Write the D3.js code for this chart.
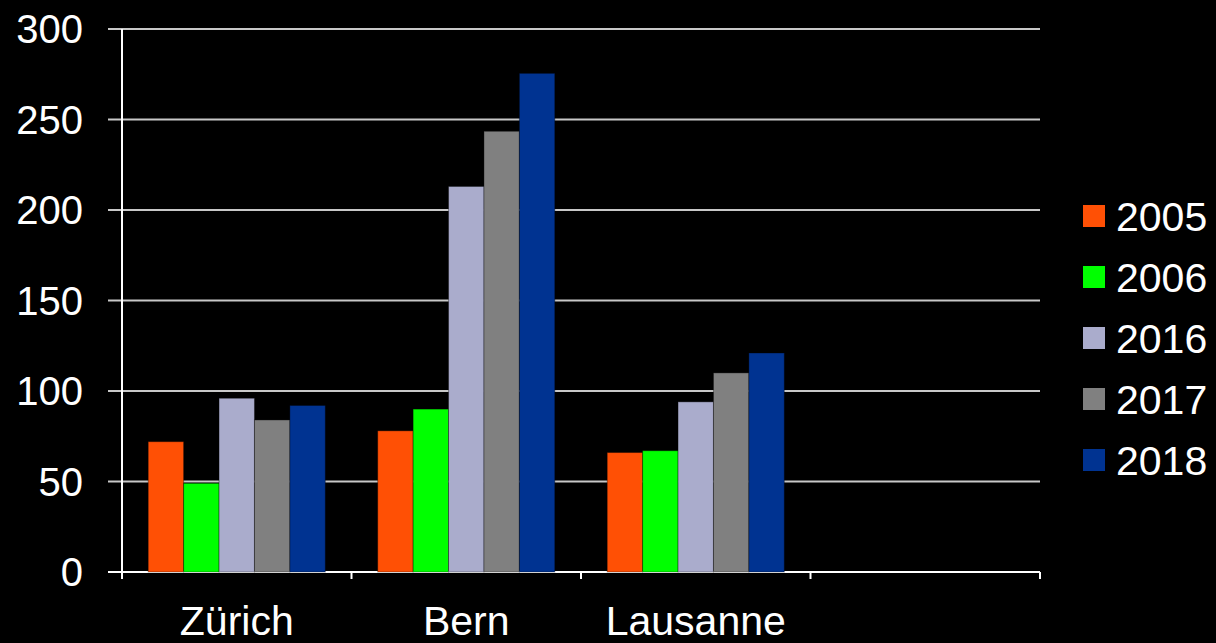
<!DOCTYPE html>
<html><head><meta charset="utf-8">
<script src="https://cdn.jsdelivr.net/npm/d3@7"></script>
<style>html,body{margin:0;padding:0;background:#000;}svg{display:block;}</style>
</head><body>
<svg id="chart" width="1216" height="643"></svg>
<script>
const categories = ["Zürich", "Bern", "Lausanne", ""];
const years = ["2005", "2006", "2016", "2017", "2018"];
const values2005 = [72, 78, 66];
const values2006 = [49, 90, 67];
const values2016 = [96, 213, 94];
const values2017 = [84, 243.5, 110];
const values2018 = [92, 275.5, 121];
const yTicks = [0, 50, 100, 150, 200, 250, 300];
const colors = ["#ff5005", "#00ff00", "#aaaccc", "#808080", "#003391"];

(function () {
const series = [values2005, values2006, values2016, values2017, values2018];
const svg = d3.select("#chart");
const font = "'Liberation Sans', Arial, Helvetica, sans-serif";

const mLeft = 122, mRight = 1040, mTop = 29, mBottom = 572;
const x0 = d3.scaleBand().domain(categories).range([mLeft, mRight]).padding(0);
const x1 = d3.scaleBand().domain(years).range([0, x0.bandwidth()]).paddingInner(0).paddingOuter(0.74);
const y = d3.scaleLinear().domain([0, 300]).range([mBottom, mTop]);

// gridlines
svg.append("g").selectAll("line").data(yTicks.filter(d => d > 0)).join("line")
  .attr("x1", mLeft - 14).attr("x2", mRight)
  .attr("y1", d => y(d)).attr("y2", d => y(d))
  .attr("stroke", "#c8c8c8").attr("stroke-width", 2);

// baseline
svg.append("line").attr("x1", mLeft - 14).attr("x2", mRight).attr("y1", y(0)).attr("y2", y(0))
  .attr("stroke", "#fff").attr("stroke-width", 2);

// bars
categories.slice(0, 3).forEach((c, ci) => {
  const g = svg.append("g").attr("transform", `translate(${x0(c)},0)`);
  g.selectAll("rect").data(years).join("rect")
    .attr("x", (yr) => x1(yr))
    .attr("width", x1.bandwidth())
    .attr("y", (yr, i) => y(series[i][ci]))
    .attr("height", (yr, i) => y(0) - y(series[i][ci]))
    .attr("fill", (yr, i) => colors[i])
    .attr("stroke", "rgba(0,0,0,0.35)").attr("stroke-width", 1);
});

// y axis line
svg.append("line").attr("x1", mLeft).attr("x2", mLeft).attr("y1", mTop).attr("y2", mBottom + 6)
  .attr("stroke", "#fff").attr("stroke-width", 2);

// x axis ticks
const xTickPos = categories.map(c => x0(c)).concat([mRight]);
svg.append("g").selectAll("line").data(xTickPos).join("line")
  .attr("x1", d => d).attr("x2", d => d).attr("y1", mBottom).attr("y2", mBottom + 7)
  .attr("stroke", "#fff").attr("stroke-width", 2);

// y labels
svg.append("g").selectAll("text").data(yTicks).join("text")
  .attr("x", 83).attr("y", d => y(d)).attr("dy", "0.36em")
  .attr("text-anchor", "end").attr("fill", "#fff")
  .attr("font-family", font).attr("font-size", 40).text(d => d);

// x labels
svg.append("g").selectAll("text").data(categories.slice(0, 3)).join("text")
  .attr("x", d => x0(d) + x0.bandwidth() / 2).attr("y", 635)
  .attr("text-anchor", "middle").attr("fill", "#fff")
  .attr("font-family", font).attr("font-size", 41).text(d => d);

// legend
const lg = svg.append("g").attr("transform", "translate(1083,205)");
years.forEach((yr, i) => {
  const row = lg.append("g").attr("transform", `translate(0,${i * 61})`);
  row.append("rect").attr("width", 22).attr("height", 22).attr("fill", colors[i]);
  row.append("text").attr("x", 33).attr("y", 11).attr("dy", "0.36em")
    .attr("fill", "#fff").attr("font-family", font).attr("font-size", 41).text(yr);
});
})();
</script>
</body></html>
